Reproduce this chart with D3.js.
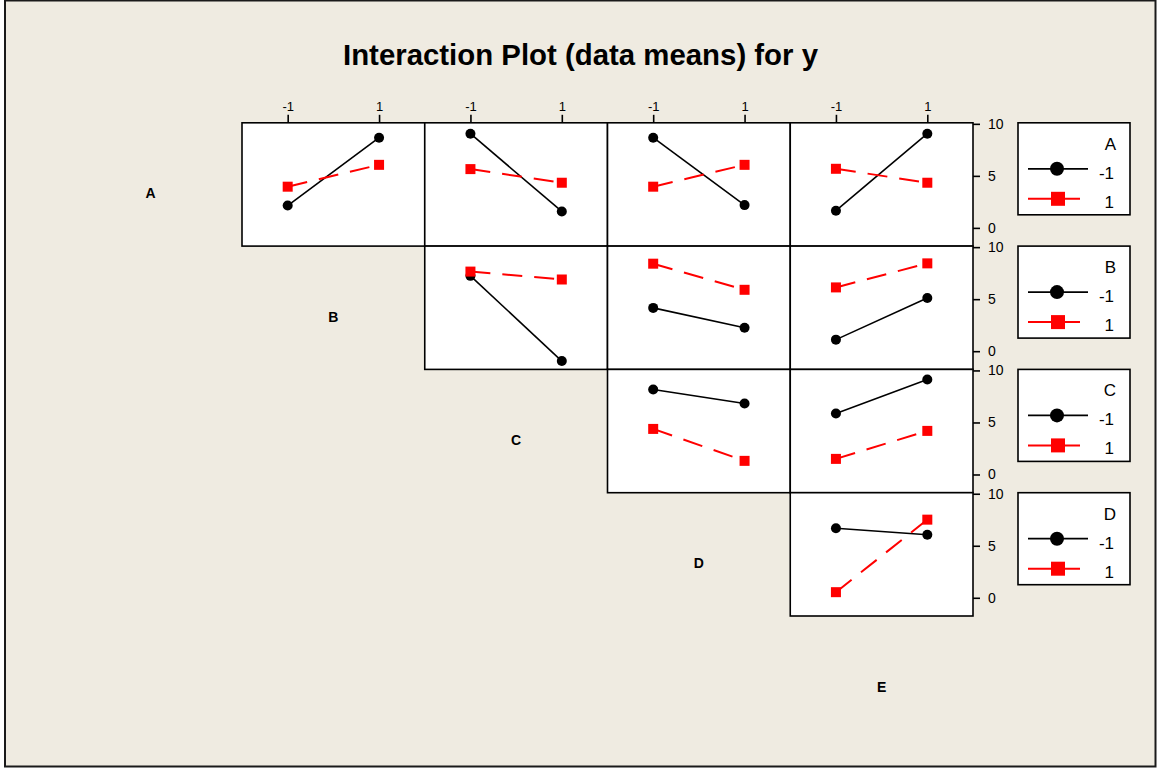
<!DOCTYPE html>
<html>
<head>
<meta charset="utf-8">
<script src="https://cdn.jsdelivr.net/npm/d3@7"></script>
<style>
  html, body { margin: 0; padding: 0; background: #ffffff; }
  svg { display: block; }
  text { font-family: Arial, "Liberation Sans", sans-serif; }
  .top-axis .tick text { font-size: 13px; }
  .right-axis .tick text { font-size: 14px; }
</style>
</head>
<body>
<svg id="chart" width="1157" height="769"></svg>
<script>
// Factor names and the two coded levels of each factor
const factors = ["A", "B", "C", "D", "E"];
const xLevels = [-1, 1];
const traceLevels = [-1, 1];
const yTicks = [0, 5, 10];

// Cell means of y: meanXY[i][j] = mean at trace factor X level i, axis factor Y level j
const meanAB = [[2.15, 8.67], [3.96, 6.06]];
const meanAC = [[9.05, 1.58], [5.65, 4.34]];
const meanAD = [[8.67, 2.19], [3.96, 6.06]];
const meanAE = [[1.65, 9.05], [5.68, 4.34]];
const meanBC = [[7.24, -0.95], [7.65, 6.89]];
const meanBD = [[4.16, 2.26], [8.41, 5.90]];
const meanBE = [[1.11, 5.11], [6.13, 8.44]];
const meanCD = [[8.17, 6.83], [4.38, 1.31]];
const meanCE = [[5.87, 9.13], [1.50, 4.19]];
const meanDE = [[6.68, 6.06], [0.54, 7.51]];

const panelMeans = {
  AB: meanAB, AC: meanAC, AD: meanAD, AE: meanAE,
  BC: meanBC, BD: meanBD, BE: meanBE,
  CD: meanCD, CE: meanCE,
  DE: meanDE
};

// Layout of the upper-triangular matrix of panels
const W = 1157, H = 769;
const gridLeft = 242, gridTop = 122.8;
const cellW = 182.75, cellH = 123.3;
const nRows = 4, nCols = 4;
const gridRight = gridLeft + nCols * cellW;

const bg = "#EFEBE1";
const red = "#FF0000";

const svg = d3.select("#chart");

// Page background and outer frame
svg.append("rect").attr("x", 0).attr("y", 0).attr("width", W).attr("height", H).attr("fill", "#ffffff");
svg.append("rect")
  .attr("x", 5).attr("y", 0.5).attr("width", 1150.5).attr("height", 766)
  .attr("fill", bg).attr("stroke", "#1a1a1a").attr("stroke-width", 2);

// Title
svg.append("text")
  .attr("x", 580.5).attr("y", 65)
  .attr("text-anchor", "middle")
  .style("font-size", "29px").attr("font-weight", "bold")
  .attr("textLength", 475).attr("lengthAdjust", "spacingAndGlyphs")
  .text("Interaction Plot (data means) for y");

// Scales shared by every panel (panel-local coordinates)
const x = d3.scaleLinear().domain([-2, 2]).range([0, cellW]);
const y = d3.scaleLinear().domain([-1.75, 10.1]).range([cellH, 0]);

const line = d3.line().x(d => x(d.x)).y(d => y(d.y));

// Panels: row r = trace factor, column c = horizontal factor, only c >= r
for (let r = 0; r < nRows; r++) {
  for (let c = r; c < nCols; c++) {
    const traceF = factors[r];
    const axisF = factors[c + 1];
    const means = panelMeans[traceF + axisF];
    const g = svg.append("g")
      .attr("transform", `translate(${gridLeft + c * cellW},${gridTop + r * cellH})`);

    g.append("rect")
      .attr("width", cellW).attr("height", cellH)
      .attr("fill", "#ffffff").attr("stroke", "#000").attr("stroke-width", 1.6);

    traceLevels.forEach((lev, i) => {
      const pts = xLevels.map((xl, j) => ({ x: xl, y: means[i][j] }));
      const isLow = lev === -1;
      g.append("path")
        .datum(pts)
        .attr("d", line)
        .attr("fill", "none")
        .attr("stroke", isLow ? "#000" : red)
        .attr("stroke-width", isLow ? 1.6 : 2)
        .attr("stroke-dasharray", isLow ? null : "20,12");
      if (isLow) {
        g.selectAll(null).data(pts).enter().append("circle")
          .attr("cx", d => x(d.x)).attr("cy", d => y(d.y)).attr("r", 5)
          .attr("fill", "#000");
      } else {
        g.selectAll(null).data(pts).enter().append("rect")
          .attr("x", d => x(d.x) - 5).attr("y", d => y(d.y) - 5)
          .attr("width", 10).attr("height", 10)
          .attr("fill", red);
      }
    });
  }
}

// Top axis over each column
for (let c = 0; c < nCols; c++) {
  const ax = svg.append("g")
    .attr("class", "top-axis")
    .attr("transform", `translate(${gridLeft + c * cellW},${gridTop})`)
    .call(d3.axisTop(x).tickValues(xLevels).tickFormat(d => String(d)).tickSize(8).tickPadding(4));
  ax.attr("font-size", null).attr("font-family", null);
  ax.select(".domain").remove();
  ax.selectAll(".tick line").attr("stroke", "#000").attr("stroke-width", 1.6);
  ax.selectAll(".tick text").attr("fill", "#000");
}

// Right axis beside each row
for (let r = 0; r < nRows; r++) {
  const ax = svg.append("g")
    .attr("class", "right-axis")
    .attr("transform", `translate(${gridRight},${gridTop + r * cellH})`)
    .call(d3.axisRight(y).tickValues(yTicks).tickFormat(d => String(d)).tickSize(7).tickPadding(8));
  ax.attr("font-size", null).attr("font-family", null);
  ax.select(".domain").remove();
  ax.selectAll(".tick line").attr("stroke", "#000").attr("stroke-width", 1.6);
  ax.selectAll(".tick text").attr("fill", "#000");
}

// Factor names on the diagonal
factors.forEach((f, i) => {
  svg.append("text")
    .attr("x", gridLeft - cellW / 2 + i * cellW)
    .attr("y", gridTop + i * cellH + cellH / 2 + 14)
    .attr("text-anchor", "middle")
    .style("font-size", "14px").attr("font-weight", "bold")
    .text(f);
});

// Legend box for each trace factor
const legX = 1018, legW = 112, legH = 92;
for (let r = 0; r < nRows; r++) {
  const top = gridTop + r * cellH;
  const lg = svg.append("g").attr("transform", `translate(${legX},${top})`);
  lg.append("rect").attr("width", legW).attr("height", legH)
    .attr("fill", "#ffffff").attr("stroke", "#000").attr("stroke-width", 1.6);
  lg.append("text").attr("x", 98).attr("y", 27).attr("text-anchor", "end")
    .style("font-size", "17px").text(factors[r]);

  traceLevels.forEach((lev, i) => {
    const isLow = lev === -1;
    const ly = isLow ? 46 : 76;
    lg.append("line")
      .attr("x1", 10).attr("x2", isLow ? 70 : 62)
      .attr("y1", ly).attr("y2", ly)
      .attr("stroke", isLow ? "#000" : red).attr("stroke-width", isLow ? 1.8 : 2);
    if (isLow) {
      lg.append("circle").attr("cx", 39).attr("cy", ly).attr("r", 7).attr("fill", "#000");
    } else {
      lg.append("rect").attr("x", 33).attr("y", ly - 7).attr("width", 14).attr("height", 14).attr("fill", red);
    }
    lg.append("text").attr("x", 96).attr("y", isLow ? 56 : 85).attr("text-anchor", "end")
      .style("font-size", "17px").text(String(lev));
  });
}
</script>
</body>
</html>
